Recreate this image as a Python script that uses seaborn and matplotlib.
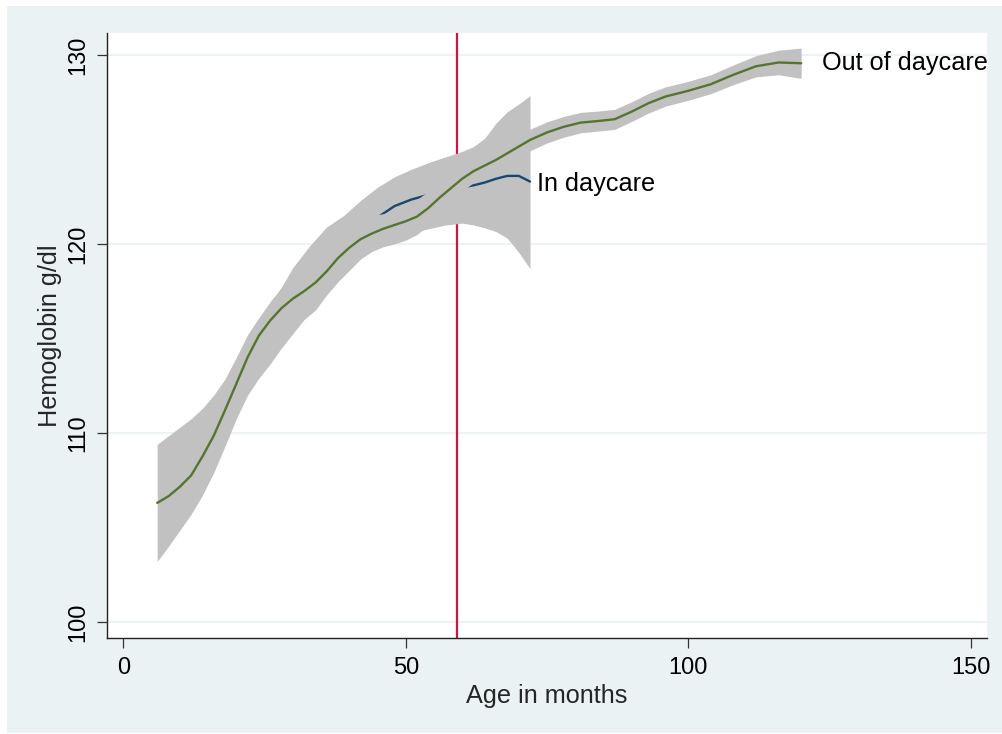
import matplotlib
matplotlib.use("Agg")
import matplotlib.pyplot as plt
from matplotlib.patches import Rectangle
import pandas as pd
import seaborn as sns

# Out of daycare: smoothed mean and confidence band
age_out = [6, 8, 10, 12, 14, 16, 18, 20, 22, 24, 26, 28, 30, 32, 34, 36, 38, 40,
           42, 44, 46, 48, 50, 52, 54, 56, 58, 60, 62, 64, 66, 68, 70, 72, 75, 78,
           81, 84, 87, 90, 93, 96, 100, 104, 108, 112, 116, 120]
hb_out = [106.3, 106.65, 107.15, 107.75, 108.75, 109.85, 111.2, 112.6, 114.0,
          115.15, 115.95, 116.6, 117.1, 117.5, 117.95, 118.55, 119.25, 119.8,
          120.25, 120.55, 120.8, 121.0, 121.2, 121.45, 121.9, 122.45, 122.95,
          123.45, 123.85, 124.15, 124.45, 124.8, 125.15, 125.5, 125.9, 126.2,
          126.42, 126.5, 126.6, 127.0, 127.45, 127.8, 128.1, 128.45, 128.95,
          129.4, 129.6, 129.56]
lo_out = [103.2, 104.0, 104.85, 105.7, 106.7, 107.9, 109.3, 110.75, 112.0, 112.9,
          113.65, 114.5, 115.25, 116.0, 116.5, 117.3, 118.0, 118.6, 119.2, 119.6,
          119.85, 120.0, 120.2, 120.5, 121.0, 121.65, 122.2, 122.8, 123.25,
          123.57, 123.88, 124.23, 124.58, 124.93, 125.34, 125.65, 125.88, 125.97,
          126.06, 126.48, 126.93, 127.29, 127.6, 127.95, 128.43, 128.84, 128.95,
          128.76]
hi_out = [109.4, 109.85, 110.3, 110.75, 111.3, 112.0, 112.85, 114.0, 115.2, 116.1,
          116.95, 117.7, 118.4, 118.75, 119.15, 119.7, 120.35, 120.85, 121.25,
          121.5, 121.6, 121.8, 122.05, 122.35, 122.8, 123.25, 123.65, 124.1,
          124.45, 124.73, 125.02, 125.37, 125.72, 126.07, 126.46, 126.75, 126.96,
          127.03, 127.12, 127.52, 127.97, 128.31, 128.6, 128.95, 129.47, 129.96,
          130.25, 130.36]

# In daycare: smoothed mean and confidence band
age_dc = [27, 30, 33, 36, 39, 42, 45, 48, 51, 54, 57, 60, 62, 64, 66, 68, 70, 72]
hb_dc = [116.2, 117.6, 118.5, 119.3, 120.1, 120.85, 121.4, 122.0, 122.35, 122.6,
         122.85, 123.0, 123.1, 123.25, 123.45, 123.6, 123.6, 123.3]
lo_dc = [115.0, 116.3, 117.1, 117.8, 118.7, 119.4, 119.9, 120.3, 120.6, 120.8,
         121.0, 121.1, 121.0, 120.85, 120.65, 120.3, 119.55, 118.7]
hi_dc = [117.2, 118.75, 119.9, 120.9, 121.5, 122.3, 123.0, 123.55, 123.95, 124.3,
         124.6, 124.9, 125.15, 125.6, 126.4, 127.0, 127.4, 127.85]

cutoff_age = 59
x_ticks = [0, 50, 100, 150]
y_ticks = [100, 110, 120, 130]

out_df = pd.DataFrame({"age": age_out, "hb": hb_out})
dc_df = pd.DataFrame({"age": age_dc, "hb": hb_dc})

BG = "#EAF2F3"
BAND = "#C1C1C1"
GREEN = "#55752F"
NAVY = "#1A476F"
RED = "#CC1446"

sns.set_theme(style="white")
plt.rcParams["font.family"] = ["Liberation Sans", "DejaVu Sans"]

fig = plt.figure(figsize=(10.03, 7.34), dpi=100, facecolor="white")
fig.add_artist(Rectangle((7 / 1003, 1 / 734), 1 - 7 / 1003, 1 - 7 / 734,
                         transform=fig.transFigure, facecolor=BG,
                         edgecolor="none", zorder=-10))
ax = fig.add_axes([107 / 1003, 1 - 638 / 734, 880 / 1003, 605 / 734])
ax.set_facecolor("white")

for v in y_ticks:
    ax.axhline(v, color=BG, lw=1.3, zorder=0.5)

ax.axvline(cutoff_age, color=RED, lw=1.6, zorder=1)

ax.fill_between(age_dc, lo_dc, hi_dc, color=BAND, lw=0, zorder=2)
sns.lineplot(data=dc_df, x="age", y="hb", color=NAVY, lw=1.7, zorder=2.1, ax=ax)
ax.fill_between(age_out, lo_out, hi_out, color=BAND, lw=0, zorder=2.2)
sns.lineplot(data=out_df, x="age", y="hb", color=GREEN, lw=1.7, zorder=2.3, ax=ax)

ax.text(age_dc[-1] + 1.3, hb_dc[-1] - 0.15, "In daycare", fontsize=18.2,
        va="center", ha="left", color="black")
ax.text(age_out[-1] + 3.7, hb_out[-1], "Out of daycare", fontsize=18.2,
        va="center", ha="left", color="black")

ax.set_xlim(-2.89, 152.9)
ax.set_ylim(99.15, 131.16)
ax.set_xticks(x_ticks)
ax.set_yticks(y_ticks)
ax.set_xlabel("Age in months", fontsize=18.2, labelpad=4)
ax.set_ylabel("Hemoglobin g/dl", fontsize=18.2, labelpad=4)

for side in ("top", "right"):
    ax.spines[side].set_visible(False)
for side in ("left", "bottom"):
    ax.spines[side].set_color("#222222")
    ax.spines[side].set_linewidth(1.0)

ax.tick_params(axis="both", which="major", direction="out", length=7.5,
               width=0.9, color="#333333", labelsize=17, labelcolor="black",
               left=True, bottom=True)
ax.tick_params(axis="x", pad=6)
ax.tick_params(axis="y", pad=5, labelrotation=90)
for lab in ax.get_yticklabels():
    lab.set_va("center")

ax.grid(False)
fig.savefig("out.png", dpi=100, facecolor=fig.get_facecolor())
